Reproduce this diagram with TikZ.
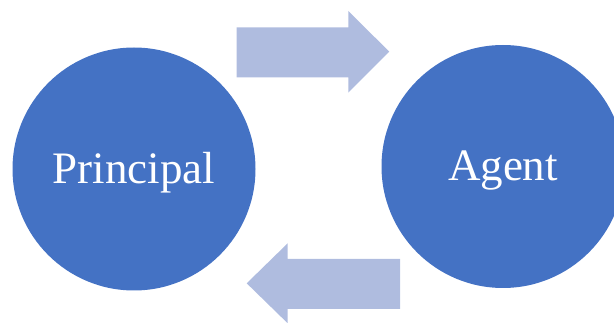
\documentclass[tikz,border=0pt]{standalone}
\usepackage{fontspec}
\setmainfont{Liberation Serif}
\definecolor{partyblue}{RGB}{68,114,196}
\definecolor{flowblue}{RGB}{175,188,223}

\begin{document}
\begin{tikzpicture}[x=1pt,y=-1pt,
  party/.style={circle,fill=partyblue,minimum size=243pt,inner sep=0pt,
    text=white,text height=33pt,text depth=4pt,font=\fontsize{45}{54}\selectfont}]
  \clip (0,0) rectangle (614,323);
  % the two parties
  \node[party] (principal) at (134,169) {Principal};
  \node[party] (agent) at (503,166.5) {Agent};
  % block arrow principal -> agent
  \fill[flowblue] (236.7,27.3) -- (348.3,27.3) -- (348.3,11) -- (389.3,51.7)
    -- (348.3,92.7) -- (348.3,77.3) -- (236.7,77.3) -- cycle;
  % block arrow agent -> principal
  \fill[flowblue] (400,259) -- (287.7,259) -- (287.7,243.3) -- (246.7,283.3)
    -- (287.7,323.3) -- (287.7,309) -- (400,309) -- cycle;
\end{tikzpicture}
\end{document}
